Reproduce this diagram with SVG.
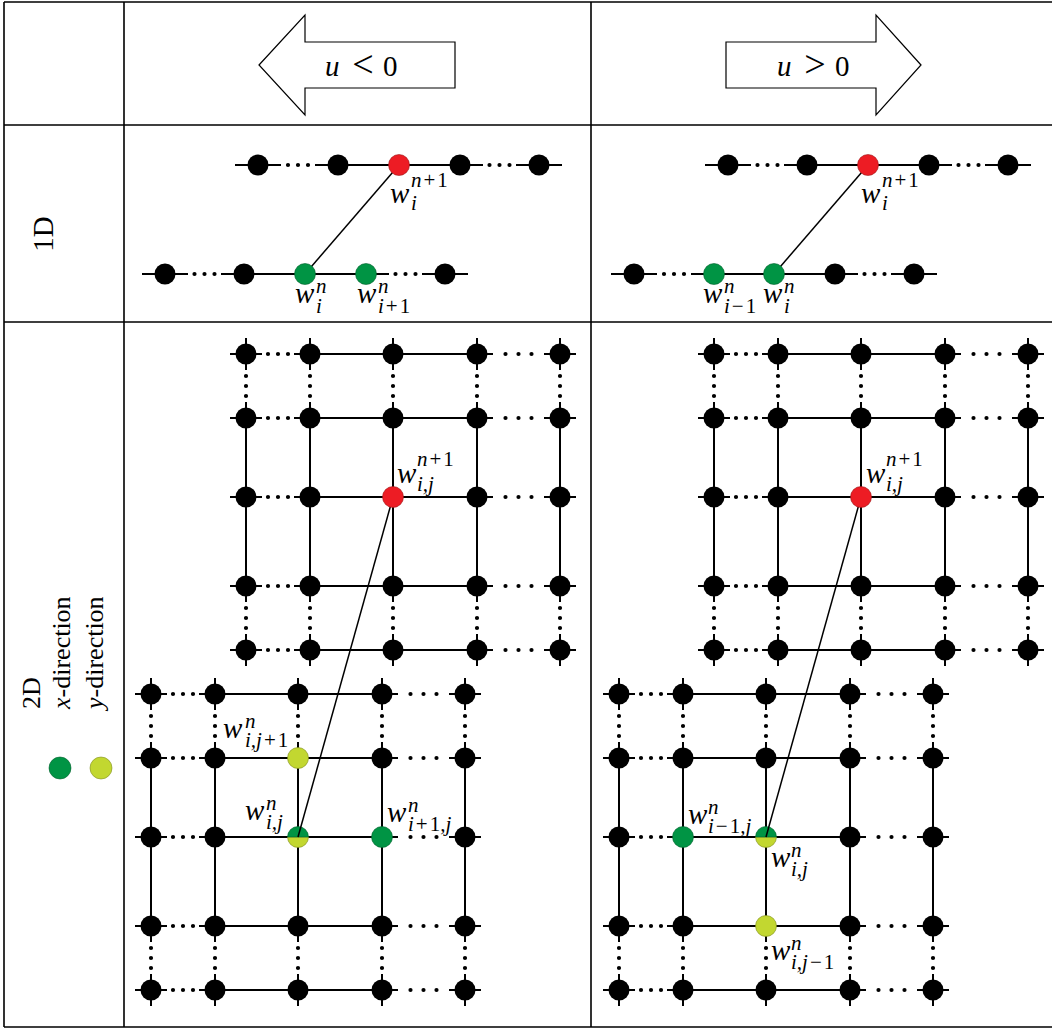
<svg xmlns="http://www.w3.org/2000/svg" xmlns:xlink="http://www.w3.org/1999/xlink" width="1052" height="1030" viewBox="0 0 1052 1030">
<style>
.tbl{stroke:#000;stroke-width:1.6;fill:none}
.ln{stroke:#000;stroke-width:2;fill:none}
.cn{stroke:#000;stroke-width:1.5;fill:none}
.d10{stroke:#000;stroke-width:4.2;stroke-linecap:round;stroke-dasharray:0 10;fill:none}
.d13{stroke:#000;stroke-width:4.2;stroke-linecap:round;stroke-dasharray:0 13;fill:none}
.arr{fill:#fff;stroke:#000;stroke-width:1.2}
.nr{fill:#ED1C24;stroke:#9a1a1a;stroke-width:.6}
.ng{fill:#009444;stroke:#00602c;stroke-width:.6}
.ny{fill:#C2D730;stroke:#7f8d20;stroke-width:.6}
.m{font-family:"Liberation Serif","Times New Roman",serif;font-size:29px;font-style:italic;fill:#000}
.t{font-family:"Liberation Serif","Times New Roman",serif;font-size:29px;fill:#000}
.rel{font-family:"Liberation Serif","Times New Roman",serif;font-size:38px;fill:#000}
.lg{font-family:"Liberation Serif","Times New Roman",serif;font-size:26px;fill:#000}
.s{font-size:21px}
.r{font-style:normal}
</style>
<defs>
<circle id="bn" r="10.5" fill="#000"/>
<g id="gridedges">
<path class="ln" d="M64 0H231M64 64H231M64 143H231M64 232H231M64 296H231M0 64V232M64 64V232M147 64V232M231 64V232M314 64V232
M-16 0H16M48 0H80M215 0H247M298 0H330M-16 64H16M48 64H80M215 64H247M298 64H330M-16 143H16M48 143H80M215 143H247M298 143H330M-16 232H16M48 232H80M215 232H247M298 232H330M-16 296H16M48 296H80M215 296H247M298 296H330
M0 -16V16M0 48V80M0 216V248M0 280V312M64 -16V16M64 48V80M64 216V248M64 280V312M147 -16V16M147 48V80M147 216V248M147 280V312M231 -16V16M231 48V80M231 216V248M231 280V312M314 -16V16M314 48V80M314 216V248M314 280V312"/>
<path class="d10" d="M22 0h20.5M22 64h20.5M22 143h20.5M22 232h20.5M22 296h20.5M0 22v20.5M64 22v20.5M147 22v20.5M231 22v20.5M314 22v20.5M0 254v20.5M64 254v20.5M147 254v20.5M231 254v20.5M314 254v20.5"/>
<path class="d13" d="M259.5 0h26.5M259.5 64h26.5M259.5 143h26.5M259.5 232h26.5M259.5 296h26.5"/>
</g>
</defs>
<rect width="1052" height="1030" fill="#fff"/>

<g id="table">
<path class="tbl" d="M4 2H1052M4 125H1052M4 322H1052M4 1027H1052M4 2V1027M124 2V1027M591 2V1027"/>
</g>

<g id="arrow-left">
<polygon class="arr" points="259,65 305,15 305,42 455,42 455,88 305,88 305,115"/>
<text class="m" x="325" y="76">u</text>
<text class="rel" x="363" y="77" text-anchor="middle">&lt;</text>
<text class="t" x="383" y="76">0</text>
</g>
<g id="arrow-right">
<polygon class="arr" points="921,65 876,15 876,42 726,42 726,88 876,88 876,115"/>
<text class="m" x="777" y="76">u</text>
<text class="rel" x="815" y="77" text-anchor="middle">&gt;</text>
<text class="t" x="835" y="76">0</text>
</g>

<g id="row-labels">
<text class="t" transform="translate(53,234) rotate(-90)" text-anchor="middle">1D</text>
<text class="lg" transform="translate(40,709) rotate(-90)">2D</text>
<text class="lg" transform="translate(70,709) rotate(-90)"><tspan font-style="italic">x</tspan>-direction</text>
<text class="lg" transform="translate(103,709) rotate(-90)"><tspan font-style="italic">y</tspan>-direction</text>
<circle id="legend-x" class="ng" cx="60" cy="768" r="11"/>
<circle id="legend-y" class="ny" cx="101" cy="768" r="11"/>
</g>

<g id="connectors">
<path class="ln" d="M338 165H460M235 165H281M315 165H361M437 165H483M516 165H562M244 274H366M142 274H188M221 274H267M343 274H389M422 274H468"/>
<path class="d10" d="M288 165h20.5M489.5 165h20.5M194.5 274h20.5M395.5 274h20.5"/>
<path class="ln" d="M807 165H929M705 165H751M784 165H830M906 165H952M985 165H1031M714 274H835M611 274H657M691 274H737M812 274H858M891 274H937"/>
<path class="d10" d="M757.5 165h20.5M958.5 165h20.5M664 274h20.5M864.5 274h20.5"/>
<use href="#gridedges" transform="translate(246,354)"/>
<use href="#gridedges" transform="translate(714,354)"/>
<use href="#gridedges" transform="translate(151,694)"/>
<use href="#gridedges" transform="translate(619,694)"/>
<line id="c1d-left" class="cn" x1="399" y1="165" x2="305" y2="274"/>
<line id="c1d-right" class="cn" x1="868" y1="165" x2="774" y2="274"/>
</g>

<g id="nodes-1d-left">
<use id="a1" href="#bn" x="258" y="165"/><use id="a2" href="#bn" x="338" y="165"/>
<circle id="a3" class="nr" cx="399" cy="165" r="10.5"/>
<use id="a4" href="#bn" x="460" y="165"/><use id="a5" href="#bn" x="539" y="165"/>
<use id="b1" href="#bn" x="165" y="274"/><use id="b2" href="#bn" x="244" y="274"/>
<circle id="b3" class="ng" cx="305" cy="274" r="10.5"/>
<circle id="b4" class="ng" cx="366" cy="274" r="10.5"/>
<use id="b5" href="#bn" x="445" y="274"/>
</g>
<g id="nodes-1d-right">
<use id="c1" href="#bn" x="728" y="165"/><use id="c2" href="#bn" x="807" y="165"/>
<circle id="c3" class="nr" cx="868" cy="165" r="10.5"/>
<use id="c4" href="#bn" x="929" y="165"/><use id="c5" href="#bn" x="1008" y="165"/>
<use id="d1" href="#bn" x="634" y="274"/>
<circle id="d2" class="ng" cx="714" cy="274" r="10.5"/>
<circle id="d3" class="ng" cx="774" cy="274" r="10.5"/>
<use id="d4" href="#bn" x="835" y="274"/><use id="d5" href="#bn" x="914" y="274"/>
</g>

<g id="nodes-ul">
<use id="ul11" href="#bn" x="246" y="354"/><use id="ul12" href="#bn" x="310" y="354"/><use id="ul13" href="#bn" x="393" y="354"/><use id="ul14" href="#bn" x="477" y="354"/><use id="ul15" href="#bn" x="560" y="354"/>
<use id="ul21" href="#bn" x="246" y="418"/><use id="ul22" href="#bn" x="310" y="418"/><use id="ul23" href="#bn" x="393" y="418"/><use id="ul24" href="#bn" x="477" y="418"/><use id="ul25" href="#bn" x="560" y="418"/>
<use id="ul31" href="#bn" x="246" y="497"/><use id="ul32" href="#bn" x="310" y="497"/><use id="ul34" href="#bn" x="477" y="497"/><use id="ul35" href="#bn" x="560" y="497"/>
<use id="ul41" href="#bn" x="246" y="586"/><use id="ul42" href="#bn" x="310" y="586"/><use id="ul43" href="#bn" x="393" y="586"/><use id="ul44" href="#bn" x="477" y="586"/><use id="ul45" href="#bn" x="560" y="586"/>
<use id="ul51" href="#bn" x="246" y="650"/><use id="ul52" href="#bn" x="310" y="650"/><use id="ul53" href="#bn" x="393" y="650"/><use id="ul54" href="#bn" x="477" y="650"/><use id="ul55" href="#bn" x="560" y="650"/>
</g>
<g id="nodes-ur">
<use id="ur11" href="#bn" x="714" y="354"/><use id="ur12" href="#bn" x="778" y="354"/><use id="ur13" href="#bn" x="861" y="354"/><use id="ur14" href="#bn" x="945" y="354"/><use id="ur15" href="#bn" x="1028" y="354"/>
<use id="ur21" href="#bn" x="714" y="418"/><use id="ur22" href="#bn" x="778" y="418"/><use id="ur23" href="#bn" x="861" y="418"/><use id="ur24" href="#bn" x="945" y="418"/><use id="ur25" href="#bn" x="1028" y="418"/>
<use id="ur31" href="#bn" x="714" y="497"/><use id="ur32" href="#bn" x="778" y="497"/><use id="ur34" href="#bn" x="945" y="497"/><use id="ur35" href="#bn" x="1028" y="497"/>
<use id="ur41" href="#bn" x="714" y="586"/><use id="ur42" href="#bn" x="778" y="586"/><use id="ur43" href="#bn" x="861" y="586"/><use id="ur44" href="#bn" x="945" y="586"/><use id="ur45" href="#bn" x="1028" y="586"/>
<use id="ur51" href="#bn" x="714" y="650"/><use id="ur52" href="#bn" x="778" y="650"/><use id="ur53" href="#bn" x="861" y="650"/><use id="ur54" href="#bn" x="945" y="650"/><use id="ur55" href="#bn" x="1028" y="650"/>
</g>
<g id="nodes-ll">
<use id="ll11" href="#bn" x="151" y="694"/><use id="ll12" href="#bn" x="215" y="694"/><use id="ll13" href="#bn" x="298" y="694"/><use id="ll14" href="#bn" x="382" y="694"/><use id="ll15" href="#bn" x="465" y="694"/>
<use id="ll21" href="#bn" x="151" y="758"/><use id="ll22" href="#bn" x="215" y="758"/><circle id="ll23" class="ny" cx="298" cy="758" r="10.5"/><use id="ll24" href="#bn" x="382" y="758"/><use id="ll25" href="#bn" x="465" y="758"/>
<use id="ll31" href="#bn" x="151" y="837"/><use id="ll32" href="#bn" x="215" y="837"/>
<g id="ll33"><path class="ny" d="M287.5 837A10.5 10.5 0 0 0 308.5 837Z"/><path class="ng" d="M287.5 837A10.5 10.5 0 0 1 308.5 837Z"/></g>
<circle id="ll34" class="ng" cx="382" cy="837" r="10.5"/><use id="ll35" href="#bn" x="465" y="837"/>
<use id="ll41" href="#bn" x="151" y="926"/><use id="ll42" href="#bn" x="215" y="926"/><use id="ll43" href="#bn" x="298" y="926"/><use id="ll44" href="#bn" x="382" y="926"/><use id="ll45" href="#bn" x="465" y="926"/>
<use id="ll51" href="#bn" x="151" y="990"/><use id="ll52" href="#bn" x="215" y="990"/><use id="ll53" href="#bn" x="298" y="990"/><use id="ll54" href="#bn" x="382" y="990"/><use id="ll55" href="#bn" x="465" y="990"/>
</g>
<g id="nodes-lr">
<use id="lr11" href="#bn" x="619" y="694"/><use id="lr12" href="#bn" x="683" y="694"/><use id="lr13" href="#bn" x="766" y="694"/><use id="lr14" href="#bn" x="850" y="694"/><use id="lr15" href="#bn" x="933" y="694"/>
<use id="lr21" href="#bn" x="619" y="758"/><use id="lr22" href="#bn" x="683" y="758"/><use id="lr23" href="#bn" x="766" y="758"/><use id="lr24" href="#bn" x="850" y="758"/><use id="lr25" href="#bn" x="933" y="758"/>
<use id="lr31" href="#bn" x="619" y="837"/><circle id="lr32" class="ng" cx="683" cy="837" r="10.5"/>
<g id="lr33"><path class="ny" d="M755.5 837A10.5 10.5 0 0 0 776.5 837Z"/><path class="ng" d="M755.5 837A10.5 10.5 0 0 1 776.5 837Z"/></g>
<use id="lr34" href="#bn" x="850" y="837"/><use id="lr35" href="#bn" x="933" y="837"/>
<use id="lr41" href="#bn" x="619" y="926"/><use id="lr42" href="#bn" x="683" y="926"/><circle id="lr43" class="ny" cx="766" cy="926" r="10.5"/><use id="lr44" href="#bn" x="850" y="926"/><use id="lr45" href="#bn" x="933" y="926"/>
<use id="lr51" href="#bn" x="619" y="990"/><use id="lr52" href="#bn" x="683" y="990"/><use id="lr53" href="#bn" x="766" y="990"/><use id="lr54" href="#bn" x="850" y="990"/><use id="lr55" href="#bn" x="933" y="990"/>
</g>

<g id="connectors-2d">
<line id="c2d-left" class="cn" x1="393" y1="497" x2="298" y2="837"/>
<line id="c2d-right" class="cn" x1="861" y1="497" x2="766" y2="837"/>
</g>
<g id="nodes-red-2d">
<circle id="ul33" class="nr" cx="393" cy="497" r="10.5"/>
<circle id="ur33" class="nr" cx="861" cy="497" r="10.5"/>
</g>

<g id="labels">
<text class="m" x="390" y="203">w<tspan class="s" x="411" y="187">n</tspan><tspan class="s r" dx="2">+</tspan><tspan class="s r" dx="2">1</tspan><tspan class="s" x="411" y="210">i</tspan></text>
<text class="m" x="295" y="303">w<tspan class="s" x="316" y="293">n</tspan><tspan class="s" x="316" y="313">i</tspan></text>
<text class="m" x="357" y="303">w<tspan class="s" x="378" y="293">n</tspan><tspan class="s" x="378" y="313">i</tspan><tspan class="s r" dx="2">+</tspan><tspan class="s r" dx="2">1</tspan></text>
<text class="m" x="861" y="203">w<tspan class="s" x="882" y="187">n</tspan><tspan class="s r" dx="2">+</tspan><tspan class="s r" dx="2">1</tspan><tspan class="s" x="882" y="210">i</tspan></text>
<text class="m" x="703" y="303">w<tspan class="s" x="724" y="293">n</tspan><tspan class="s" x="724" y="313">i</tspan><tspan class="s r" dx="2">−</tspan><tspan class="s r" dx="2">1</tspan></text>
<text class="m" x="763" y="303">w<tspan class="s" x="784" y="293">n</tspan><tspan class="s" x="784" y="313">i</tspan></text>
<text class="m" x="397" y="483">w<tspan class="s" x="417" y="466">n</tspan><tspan class="s r" dx="2">+</tspan><tspan class="s r" dx="2">1</tspan><tspan class="s" x="417" y="491">i,j</tspan></text>
<text class="m" x="866" y="483">w<tspan class="s" x="886" y="466">n</tspan><tspan class="s r" dx="2">+</tspan><tspan class="s r" dx="2">1</tspan><tspan class="s" x="886" y="491">i,j</tspan></text>
<text class="m" x="223" y="738">w<tspan class="s" x="245" y="728">n</tspan><tspan class="s" x="245" y="747">i,j</tspan><tspan class="s r" dx="2">+</tspan><tspan class="s r" dx="2">1</tspan></text>
<text class="m" x="245" y="820">w<tspan class="s" x="266" y="810">n</tspan><tspan class="s" x="266" y="829">i,j</tspan></text>
<text class="m" x="387" y="822">w<tspan class="s" x="408" y="812">n</tspan><tspan class="s" x="408" y="831">i</tspan><tspan class="s r" dx="2">+</tspan><tspan class="s r" dx="2">1</tspan><tspan class="s">,j</tspan></text>
<text class="m" x="688" y="824">w<tspan class="s" x="708" y="814">n</tspan><tspan class="s" x="708" y="833">i</tspan><tspan class="s r" dx="2">−</tspan><tspan class="s r" dx="2">1</tspan><tspan class="s">,j</tspan></text>
<text class="m" x="771" y="867">w<tspan class="s" x="791" y="857">n</tspan><tspan class="s" x="791" y="876">i,j</tspan></text>
<text class="m" x="771" y="960">w<tspan class="s" x="791" y="950">n</tspan><tspan class="s" x="791" y="969">i,j</tspan><tspan class="s r" dx="2">−</tspan><tspan class="s r" dx="2">1</tspan></text>
</g>
</svg>
